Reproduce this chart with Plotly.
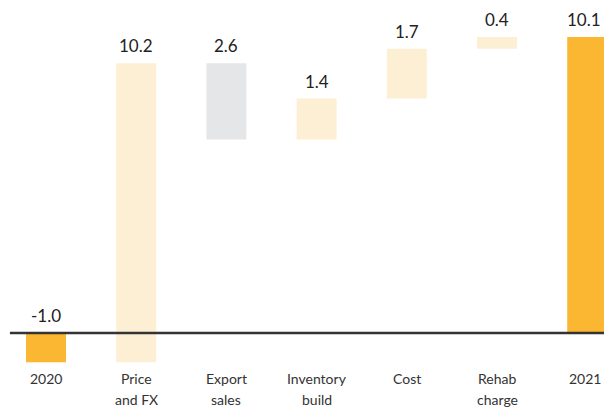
import plotly.graph_objects as go

categories = ["2020", "Price<br>and FX", "Export<br>sales", "Inventory<br>build", "Cost", "Rehab<br>charge", "2021"]
values = [-1.0, 10.2, -2.6, 1.4, 1.7, 0.4, 10.1]
measures = ["absolute", "relative", "relative", "relative", "relative", "relative", "total"]
value_labels = ["-1.0", "10.2", "2.6", "1.4", "1.7", "0.4", "10.1"]

ORANGE = "#FBB731"
LIGHT = "#FDEFD4"
GREY = "#E5E6E8"
FONT = "Lato, sans-serif"

xs = list(range(len(categories)))

fig = go.Figure(go.Waterfall(
    x=xs,
    y=values,
    measure=measures,
    width=0.443,
    connector=dict(visible=False),
    increasing=dict(marker=dict(color=LIGHT)),
    decreasing=dict(marker=dict(color=GREY)),
    totals=dict(marker=dict(color=ORANGE)),
    textposition="none",
    hoverinfo="skip",
))

annotations = []
level = 0.0
for i, (v, m, lab) in enumerate(zip(values, measures, value_labels)):
    if m == "absolute":
        start, end = 0.0, v
        level = v
    elif m == "total":
        start, end = 0.0, level
    else:
        start, end = level, level + v
        level = level + v
    top = max(start, end)
    annotations.append(dict(
        x=i, y=top, xref="x", yref="y", text=lab, showarrow=False,
        yanchor="bottom", yshift=5, xshift=(-3 if i == len(values) - 1 else 0),
        font=dict(family=FONT, size=17, color="#222222"),
    ))

# category labels (line by line for wider line spacing)
for i, cat in enumerate(categories):
    for j, line in enumerate(cat.split("<br>")):
        annotations.append(dict(
            x=i, y=0, xref="x", yref="y", text=line, showarrow=False,
            yanchor="middle", yshift=-46 - 21 * j,
            xshift=(-2 if i == len(categories) - 1 else 0),
            font=dict(family=FONT, size=14, color="#333333"),
        ))

fig.update_layout(
    width=604, height=407,
    margin=dict(l=0, r=0, t=10, b=43),
    paper_bgcolor="white", plot_bgcolor="white",
    showlegend=False,
    annotations=annotations,
    shapes=[dict(type="line", xref="x", yref="y", x0=-0.4, x1=6.3, y0=0, y1=0,
                 line=dict(color="#333333", width=2.5), layer="above")],
    xaxis=dict(
        range=[-0.51, 6.186],
        tickmode="array", tickvals=xs, ticktext=categories,
        showgrid=False, zeroline=False, showline=False, ticks="",
        showticklabels=False,
    ),
    yaxis=dict(
        range=[-1.058, 11.02],
        showgrid=False, zeroline=False, showline=False,
        showticklabels=False, ticks="",
    ),
)

fig.write_html("out.html", config={"displayModeBar": False},
               post_script="document.body.style.margin='0';")
